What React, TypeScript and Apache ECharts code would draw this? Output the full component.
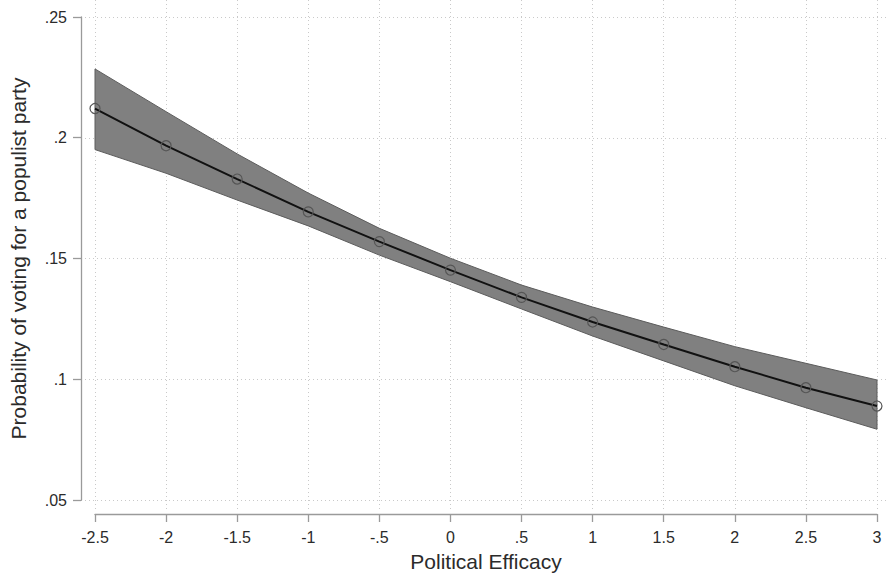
import React, { useEffect, useRef } from "react";
import * as echarts from "echarts";

// ---- data ----
const efficacy = [-2.5, -2, -1.5, -1, -0.5, 0, 0.5, 1, 1.5, 2, 2.5, 3];
const probability = [0.2121, 0.1967, 0.1829, 0.1693, 0.157, 0.1452, 0.1339, 0.1237, 0.1144, 0.1052, 0.0965, 0.0889];
const upperCI = [0.2285, 0.2108, 0.1933, 0.1771, 0.1625, 0.1501, 0.139, 0.1299, 0.1216, 0.1135, 0.1066, 0.0997];
const lowerCI = [0.1951, 0.1853, 0.1742, 0.1635, 0.1514, 0.1404, 0.1291, 0.1179, 0.1076, 0.0973, 0.0882, 0.0793];
const xTicks = [-2.5, -2, -1.5, -1, -0.5, 0, 0.5, 1, 1.5, 2, 2.5, 3];
const yTicks = [0.05, 0.1, 0.15, 0.2, 0.25];
const xTitle = "Political Efficacy";
const yTitle = "Probability of voting for a populist party";

// ---- layout ----
const W = 889;
const H = 580;
const DATA_LEFT = 95;
const DATA_RIGHT = 877;
const DATA_TOP = 17;
const DATA_BOTTOM = 500;
const AXIS_OFFSET = 14;
const PLOT_LEFT = DATA_LEFT - AXIS_OFFSET;
const PLOT_BOTTOM = DATA_BOTTOM + AXIS_OFFSET;

const xMin = xTicks[0];
const xMax = xTicks[xTicks.length - 1];
const yMin = yTicks[0];
const yMax = yTicks[yTicks.length - 1];
const xStep = 0.5;
const yStep = 0.05;

const FONT = "'Liberation Sans', Arial, Helvetica, sans-serif";
const TEXT = "#2b2b2b";
const AXIS = "#9a9a9a";
const GRIDC = "#c9c9c9";

// Stata-style number labels: drop the leading zero (.25, -.5)
const fmtNum = (v: number) => {
  const s = (Math.round(v * 100) / 100).toString();
  if (s.startsWith("0.")) return s.slice(1);
  if (s.startsWith("-0.")) return "-" + s.slice(2);
  return s;
};

export default function App() {
  const ref = useRef<HTMLDivElement>(null);
  useEffect(() => {
    if (!ref.current) return;
    const chart = echarts.init(ref.current, undefined, { renderer: "svg" });

    const pxPerX = (DATA_RIGHT - DATA_LEFT) / (xMax - xMin);
    const pxPerY = (DATA_BOTTOM - DATA_TOP) / (yMax - yMin);
    // grid for vertical gridlines (extends over the whole plot region)
    const gbMin = xMin - xStep;
    const gbLeft = DATA_LEFT - xStep * pxPerX;
    const gbMax = xMax + (W - DATA_RIGHT) / pxPerX;
    // grid for horizontal gridlines
    const gcMax = yMax + DATA_TOP / pxPerY;

    chart.setOption({
      animation: false,
      backgroundColor: "#ffffff",
      textStyle: { fontFamily: FONT },
      grid: [
        { left: DATA_LEFT, right: W - DATA_RIGHT, top: DATA_TOP, bottom: H - DATA_BOTTOM },
        { left: gbLeft, width: W - gbLeft, top: 0, height: PLOT_BOTTOM - 4 },
        { left: PLOT_LEFT, right: 0, top: 0, height: DATA_BOTTOM },
      ],
      xAxis: [
        {
          gridIndex: 0,
          type: "value",
          min: xMin,
          max: xMax,
          interval: xStep,
          offset: AXIS_OFFSET,
          axisLine: { show: true, onZero: false, lineStyle: { color: AXIS, width: 1.3 } },
          axisTick: { show: true, length: 8, lineStyle: { color: AXIS, width: 1.3 } },
          axisLabel: {
            show: true,
            margin: 15,
            fontSize: 16,
            color: TEXT,
            fontFamily: FONT,
            formatter: fmtNum,
          },
          splitLine: { show: false },
          name: xTitle,
          nameLocation: "middle",
          nameGap: 37,
          nameTextStyle: { fontSize: 21, color: TEXT, fontFamily: FONT },
        },
        {
          gridIndex: 1,
          type: "value",
          min: gbMin,
          max: gbMax,
          interval: xStep,
          axisLine: { show: false, onZero: false },
          axisTick: { show: false },
          axisLabel: { show: false },
          splitLine: {
            show: true,
            showMinLine: false,
            showMaxLine: false,
            lineStyle: { color: GRIDC, width: 1, type: [1, 3] },
          },
        },
        { gridIndex: 2, type: "value", show: false, min: 0, max: 1 },
      ],
      yAxis: [
        {
          gridIndex: 0,
          type: "value",
          min: yMin,
          max: yMax,
          interval: yStep,
          offset: AXIS_OFFSET,
          axisLine: { show: true, onZero: false, lineStyle: { color: AXIS, width: 1.3 } },
          axisTick: { show: true, length: 8, lineStyle: { color: AXIS, width: 1.3 } },
          axisLabel: {
            show: true,
            margin: 14,
            fontSize: 16,
            color: TEXT,
            fontFamily: FONT,
            formatter: fmtNum,
          },
          splitLine: { show: false },
          name: yTitle,
          nameLocation: "middle",
          nameGap: 52,
          nameTextStyle: { fontSize: 21, color: TEXT, fontFamily: FONT },
        },
        { gridIndex: 1, type: "value", show: false, min: 0, max: 1 },
        {
          gridIndex: 2,
          type: "value",
          min: yMin,
          max: gcMax,
          interval: yStep,
          axisLine: { show: false, onZero: false },
          axisTick: { show: false },
          axisLabel: { show: false },
          splitLine: {
            show: true,
            showMinLine: true,
            showMaxLine: false,
            lineStyle: { color: GRIDC, width: 1, type: [1, 3] },
          },
        },
      ],
      series: [
        {
          type: "custom",
          xAxisIndex: 0,
          yAxisIndex: 0,
          data: [[efficacy[0], probability[0]]],
          z: 2,
          silent: true,
          renderItem: (_params: any, api: any) => {
            const top = efficacy.map((x, i) => api.coord([x, upperCI[i]]));
            const bottom = efficacy.map((x, i) => api.coord([x, lowerCI[i]])).reverse();
            return {
              type: "polygon",
              shape: { points: top.concat(bottom) },
              style: { fill: "#808080", stroke: "#5c5c5c", lineWidth: 1 },
            };
          },
        },
        {
          type: "line",
          xAxisIndex: 0,
          yAxisIndex: 0,
          z: 3,
          data: efficacy.map((x, i) => [x, probability[i]]),
          symbol: "circle",
          symbolSize: 10,
          showSymbol: true,
          itemStyle: { color: "transparent", borderColor: "#555555", borderWidth: 1.2 },
          lineStyle: { color: "#111111", width: 2 },
        },
      ],
    });
    return () => chart.dispose();
  }, []);

  return (
    <div
      ref={ref}
      style={{ position: "fixed", left: 0, top: 0, width: W, height: H, background: "#fff" }}
    />
  );
}
